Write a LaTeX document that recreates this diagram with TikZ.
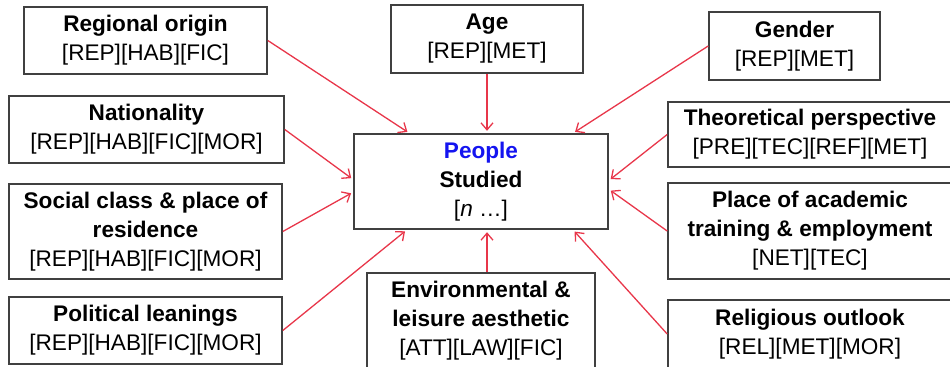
\documentclass[tikz,border=0pt]{standalone}
\usepackage{fontspec}
\setmainfont{Liberation Sans}
\usepackage{xcolor}
\usepackage{tikz}
\usetikzlibrary{positioning,calc,arrows.meta}
\definecolor{BoxGray}{RGB}{64,64,64}
\definecolor{LinkRed}{RGB}{232,54,74}
\definecolor{PeopleBlue}{RGB}{20,20,240}
\tikzset{
    factorbox/.style={rectangle, draw=BoxGray, line width=0.8pt, fill=white, align=center, inner sep=2pt, font=\fontsize{11.3}{14.5}\selectfont},
    link/.style={draw=LinkRed, line width=0.65pt, -{Straight Barb[length=3.5pt,width=6pt]}, shorten >=1.2pt}
}

\begin{document}
\begin{tikzpicture}[
                x=0.5pt, y=-0.5pt,
                % Style cho hộp hai dòng
                lowbox/.style={factorbox, minimum height=33.5pt},
                % Style cho hộp ba dòng
                tallbox/.style={factorbox, minimum height=47.5pt},
                % Style cho hộp trung tâm
                hubbox/.style={tallbox, minimum width=127pt}
            ]
                \clip (0,0) rectangle (950,366);

                % --- HỘP TRUNG TÂM ---
                \node[hubbox] (ppl) at (481,181.5) {\textcolor{PeopleBlue}{\textbf{People}}\\\textbf{Studied}\\{}[\textit{n} …]};

                % --- CÁC HỘP BÊN TRÁI ---
                \node[lowbox, minimum width=121.5pt] (origin) at (145.5,40.5) {\textbf{Regional origin}\\{}[REP][HAB][FIC]};
                \node[lowbox, minimum width=137.5pt] (nation) at (146.5,129.5) {\textbf{Nationality}\\{}[REP][HAB][FIC][MOR]};
                \node[tallbox, minimum width=136.5pt] (social) at (145.5,231.5) {\textbf{Social class \& place of}\\\textbf{residence}\\{}[REP][HAB][FIC][MOR]};
                \node[lowbox, minimum width=136.5pt] (politics) at (145.5,330.5) {\textbf{Political leanings}\\{}[REP][HAB][FIC][MOR]};

                % --- CÁC HỘP Ở GIỮA ---
                \node[lowbox, minimum width=96pt, minimum height=34pt] (age) at (487,39) {\textbf{Age}\\{}[REP][MET]};
                \node[tallbox, minimum width=114pt] (env) at (481,320.5) {\textbf{Environmental \&}\\\textbf{leisure aesthetic}\\{}[ATT][LAW][FIC]};

                % --- CÁC HỘP BÊN PHẢI ---
                \node[lowbox, minimum width=85.5pt, minimum height=34pt] (gender) at (794.5,46) {\textbf{Gender}\\{}[REP][MET]};
                \node[lowbox, minimum width=142pt, minimum height=32.5pt] (theory) at (810,134.5) {\textbf{Theoretical perspective}\\{}[PRE][TEC][REF][MET]};
                \node[tallbox, minimum width=142pt, minimum height=48pt] (academic) at (810,231) {\textbf{Place of academic}\\\textbf{training \& employment}\\{}[NET][TEC]};
                \node[lowbox, minimum width=142pt, minimum height=34pt] (religion) at (810,334) {\textbf{Religious outlook}\\{}[REL][MET][MOR]};

                % --- CÁC MŨI TÊN ---
                \draw[link] (origin.east) -- ($(ppl.north west)!0.22!(ppl.north east)$);
                \draw[link] (age.south) -- (age.south |- ppl.north);
                \draw[link] (gender.west) -- ($(ppl.north west)!0.86!(ppl.north east)$);
                \draw[link] (nation.east) -- ($(ppl.north west)!0.48!(ppl.south west)$);
                \draw[link] (social.east) -- ($(ppl.north west)!0.61!(ppl.south west)$);
                \draw[link] (politics.east) -- ($(ppl.south west)!0.21!(ppl.south east)$);
                \draw[link] (env.north -| age.south) -- (age.south |- ppl.south);
                \draw[link] (theory.west) -- ($(ppl.north east)!0.49!(ppl.south east)$);
                \draw[link] (academic.west) -- ($(ppl.north east)!0.58!(ppl.south east)$);
                \draw[link] (religion.west) -- ($(ppl.south west)!0.86!(ppl.south east)$);

            \end{tikzpicture}
\end{document}
